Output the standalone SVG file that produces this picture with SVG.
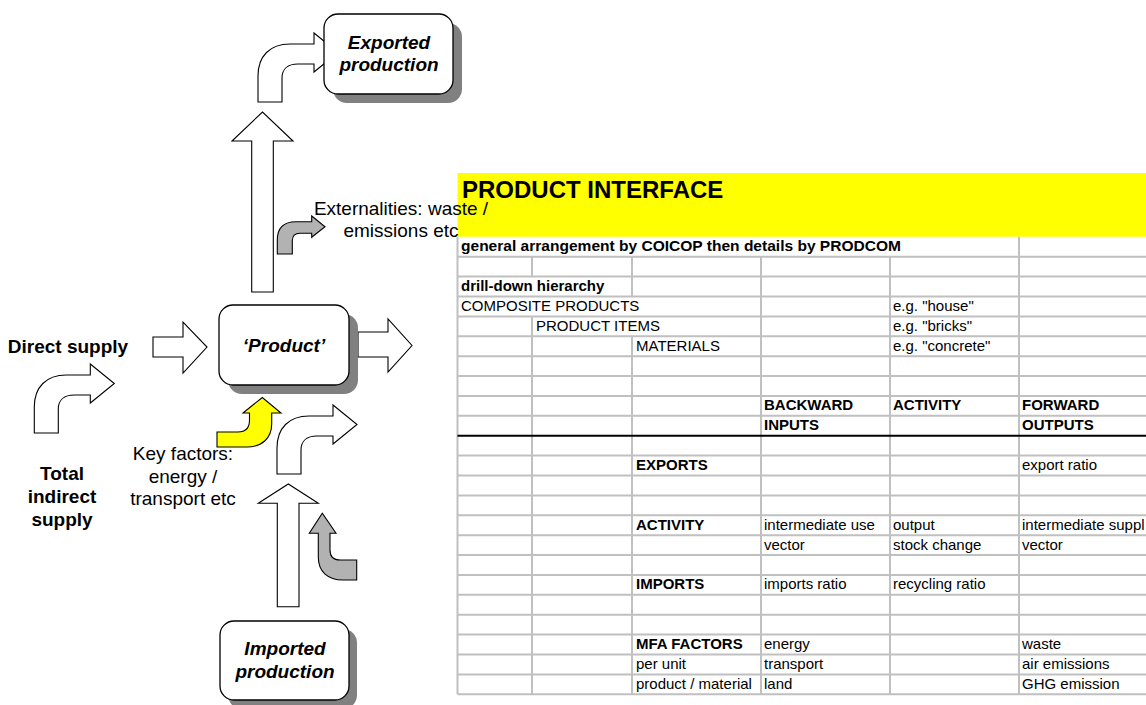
<svg xmlns="http://www.w3.org/2000/svg" xmlns:xlink="http://www.w3.org/1999/xlink" width="1146" height="705" viewBox="0 0 1146 705">
  <style>
    .t { font-family: "Liberation Sans", Arial, sans-serif; fill: #000; }
    .lbl { font-size: 19px; }
    .b { font-weight: bold; }
    .bi { font-weight: bold; font-style: italic; font-size: 19px; }
    .cell { font-size: 15px; }
    .grid { stroke: #c0c0c0; stroke-width: 2; fill: none; }
    .rule { stroke: #000; stroke-width: 2; }
    .box { fill: #fff; stroke: #000; stroke-width: 1.3; }
    .shadow { fill: #808080; }
    .arrow { fill: #fff; stroke: #000; stroke-width: 1.1; stroke-linejoin: miter; }
    .grey { fill: #b2b2b2; stroke: #000; stroke-width: 1.1; }
    .yellow { fill: #ffff00; stroke: #000; stroke-width: 1.1; }
  </style>
  <defs>
    <!-- bent block arrow: bottom-left corner of its stem at the origin -->
    <path id="bend" d="M0,0 V-26 C0,-46 12,-58 32,-58 H56 V-69 L80,-49.5 L56,-30 V-38 H40 C30,-38 24,-33 24,-24 V0 Z"/>
  </defs>

  <rect width="1146" height="705" fill="#fff"/>

  <!-- product interface sheet -->
  <g id="sheet">
    <rect x="457.5" y="173" width="689" height="63.7" fill="#ffff00"/>
    <text class="t b" x="462" y="198" font-size="24">PRODUCT INTERFACE</text>

    <g class="grid">
      <!-- horizontal rules -->
      <path d="M457.5,256.7H1146 M457.5,276.6H1146 M457.5,296.5H1146 M457.5,316.4H1146 M457.5,336.3H1146 M457.5,356.2H1146 M457.5,376H1146 M457.5,395.9H1146 M457.5,415.8H1146
               M457.5,455.6H1146 M457.5,475.5H1146 M457.5,495.4H1146 M457.5,515.3H1146 M457.5,535.2H1146 M457.5,555.1H1146 M457.5,575H1146 M457.5,594.8H1146 M457.5,614.7H1146 M457.5,634.6H1146 M457.5,654.5H1146 M457.5,674.4H1146 M457.5,694.3H1146"/>
      <!-- column rules -->
      <path d="M457.5,236.7V694.3 M1019,236.7V694.3
               M532,256.7V276.6 M532,316.4V694.3
               M632,256.7V296.5 M632,336.3V694.3
               M761,256.7V694.3 M890,256.7V694.3"/>
    </g>
    <line class="rule" x1="457.5" y1="435.7" x2="1146" y2="435.7"/>

    <g class="t cell">
      <text class="b" x="461" y="251.2" textLength="440" lengthAdjust="spacingAndGlyphs">general arrangement by COICOP then details by PRODCOM</text>
      <text class="b" x="461" y="291">drill-down hierarchy</text>
      <text x="461" y="310.9">COMPOSITE PRODUCTS</text>
      <text x="893" y="310.9">e.g. "house"</text>
      <text x="536" y="330.8">PRODUCT ITEMS</text>
      <text x="893" y="330.8">e.g. "bricks"</text>
      <text x="636" y="350.7">MATERIALS</text>
      <text x="893" y="350.7">e.g. "concrete"</text>

      <text class="b" x="764" y="410.3">BACKWARD</text>
      <text class="b" x="893" y="410.3">ACTIVITY</text>
      <text class="b" x="1022" y="410.3">FORWARD</text>
      <text class="b" x="764" y="430.2">INPUTS</text>
      <text class="b" x="1022" y="430.2">OUTPUTS</text>

      <text class="b" x="636" y="470">EXPORTS</text>
      <text x="1022" y="470">export ratio</text>

      <text class="b" x="636" y="529.7">ACTIVITY</text>
      <text x="764" y="529.7">intermediate use</text>
      <text x="893" y="529.7">output</text>
      <text x="1022" y="529.7">intermediate suppl</text>
      <text x="764" y="549.6">vector</text>
      <text x="893" y="549.6">stock change</text>
      <text x="1022" y="549.6">vector</text>

      <text class="b" x="636" y="589.3">IMPORTS</text>
      <text x="764" y="589.3">imports ratio</text>
      <text x="893" y="589.3">recycling ratio</text>

      <text class="b" x="636" y="649">MFA FACTORS</text>
      <text x="764" y="649">energy</text>
      <text x="1022" y="649">waste</text>
      <text x="636" y="668.9">per unit</text>
      <text x="764" y="668.9">transport</text>
      <text x="1022" y="668.9">air emissions</text>
      <text x="636" y="688.8">product / material</text>
      <text x="764" y="688.8">land</text>
      <text x="1022" y="688.8">GHG emission</text>
    </g>
  </g>

  <!-- flow arrows -->
  <g id="connectors">
    <path class="arrow" d="M251.7,292 V141 H232 L262.5,112 L293,141 H273.3 V292 Z"/>
    <use class="arrow" xlink:href="#bend" href="#bend" transform="translate(258,102)"/>
    <path class="grey" d="M277.3,254 V240 C277.3,228 284,221.7 296,221.7 H311.7 V216 L325,226.7 L311.7,237.3 V233.3 H300 C295,233.3 292.3,236 292.3,241 V254 Z"/>
    <path class="arrow" d="M153,337 H183 V322 L207,347 L183,373 V357 H153 Z"/>
    <path class="arrow" d="M358,332 H388 V319 L412,345.5 L388,372 V357 H358 Z"/>
    <use class="arrow" xlink:href="#bend" href="#bend" transform="translate(34.3,433)"/>
    <path class="yellow" d="M217,432 H238 C246,432 249.5,428 249.5,420 V413 H243 L262.3,397.5 L281,413 H271.7 V424 C271.7,438 262,447 247,447 H217 Z"/>
    <use class="arrow" xlink:href="#bend" href="#bend" transform="translate(277,474)"/>
    <path class="arrow" d="M277.3,606.7 V503.3 H258.3 L288.3,484 L318.3,503.3 H299 V606.7 Z"/>
    <path class="grey" d="M356.7,560 H340 C333,560 330,556 330,550 V533.3 H336 L322.3,513.3 L309.3,533.3 H318.3 V557 C318.3,572 328,580 343,580 H356.7 Z"/>
  </g>

  <g id="exported">
    <rect class="shadow" x="333" y="23" width="129" height="80" rx="14"/>
    <rect class="box" x="324" y="14" width="129" height="80" rx="14"/>
    <text class="t bi" x="389" y="49" text-anchor="middle">Exported</text>
    <text class="t bi" x="389" y="71" text-anchor="middle">production</text>
  </g>

  <g id="product">
    <rect class="shadow" x="228" y="314" width="130" height="80" rx="14"/>
    <rect class="box" x="219" y="305" width="130" height="80" rx="14"/>
    <text class="t bi" x="284" y="352" text-anchor="middle">‘Product’</text>
  </g>

  <g id="imported">
    <rect class="shadow" x="228" y="629" width="129" height="80" rx="14"/>
    <rect class="box" x="220" y="621" width="129" height="79" rx="14"/>
    <text class="t bi" x="285" y="655" text-anchor="middle">Imported</text>
    <text class="t bi" x="285" y="678" text-anchor="middle">production</text>
  </g>

  <g id="direct-supply">
    <text class="t lbl b" x="68" y="353" text-anchor="middle">Direct supply</text>
  </g>

  <g id="indirect-supply">
    <text class="t lbl b" x="62" y="480" text-anchor="middle">Total</text>
    <text class="t lbl b" x="62" y="503" text-anchor="middle">indirect</text>
    <text class="t lbl b" x="62" y="526" text-anchor="middle">supply</text>
  </g>

  <g id="key-factors">
    <text class="t lbl" x="183" y="460" text-anchor="middle">Key factors:</text>
    <text class="t lbl" x="183" y="483" text-anchor="middle">energy /</text>
    <text class="t lbl" x="183" y="505" text-anchor="middle">transport etc</text>
  </g>

  <g id="externalities">
    <text class="t lbl" x="401" y="215" text-anchor="middle">Externalities: waste /</text>
    <text class="t lbl" x="401" y="237" text-anchor="middle">emissions etc</text>
  </g>
</svg>
